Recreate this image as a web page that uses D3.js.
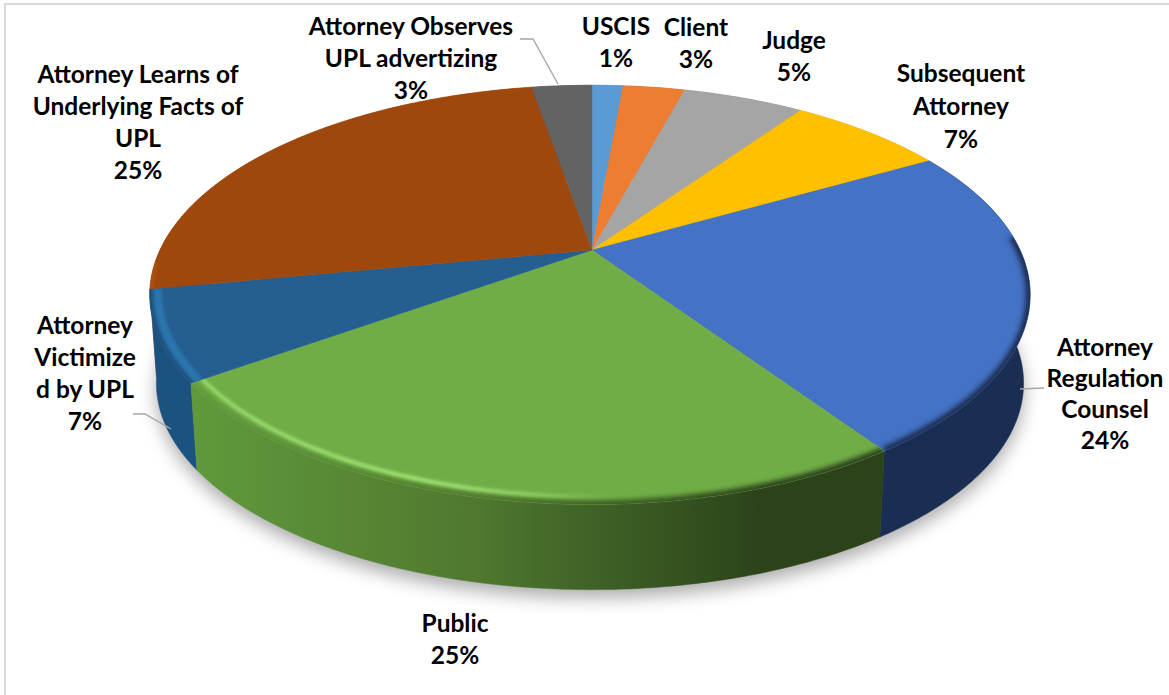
<!DOCTYPE html>
<html><head><meta charset="utf-8">
<script src="https://cdn.jsdelivr.net/npm/d3@7"></script>
<style>html,body{margin:0;background:#fff}svg{display:block}text{font-family:Lato,"Open Sans",sans-serif;font-weight:700;fill:#000}</style>
</head><body><svg id="c" width="1169" height="695"></svg>
<script>
const categories=["USCIS","Client","Judge","Subsequent Attorney","Attorney Regulation Counsel","Public","Attorney Victimized by UPL","Attorney Learns of Underlying Facts of UPL","Attorney Observes UPL advertizing"];
const values=[1.4,2.8,5.49,7.11,23.7,24.6,6.9,25.3,2.7];
const percentLabels=["1%","3%","5%","7%","24%","25%","7%","25%","3%"];
const topColors=["#5b9bd5","#ed7d31","#a5a5a5","#ffc000","#4472c4","#70ad47","#255e91","#9e480e","#636363"];
const wallColors=["#4a80b0","#c5672a","#888","#d09c00","#1a2d52","url(#wallGreen)","#1c527f","#a84c0c","#505050"];
const labelLines=[["USCIS"],["Client"],["Judge"],["Subsequent","Attorney"],["Attorney","Regulation","Counsel"],["Public"],["Attorney","Victimize","d by UPL"],["Attorney Learns of","Underlying Facts of","UPL"],["Attorney Observes","UPL advertizing"]];
const labelAnchors=[[616,27,32],[696,28,32],[794,41,32],[961,74,33],[1105,348,31],[455,624,32],[85,326,32],[138,75,32],[411,27,32]];
const leaders=[[[520,39],[533,39],[558,84]],[[133,414],[145,414],[171,429]],[[1020,389],[1044,388]]];

const svg=d3.select("#c");
const P=0.214,RXR=428,RXL=432,RY=200,CX=592,CY=250;
const project=(th,r=1)=>{const u=r*Math.sin(th),v=r*Math.cos(th),d=1+P*v;return [CX+(u<0?RXL:RXR)*u/d,CY-RY*v/d];};
const lower=(th)=>{const [x,y]=project(th);return [CX+(x-CX)*0.985,339+(y-CY)*0.985];};
const line=d3.line();
const arcs=d3.pie().sort(null)(values);
const span=(a,b,n)=>d3.range(n+1).map(i=>a+(b-a)*i/n);
const rimPts=(a,b,f)=>span(a,b,Math.max(2,Math.ceil((b-a)/0.01))).map(t=>f(t));

const defs=svg.append("defs");
const blur=(id,s)=>defs.append("filter").attr("id",id).attr("filterUnits","userSpaceOnUse").attr("x",0).attr("y",0).attr("width",1169).attr("height",695).append("feGaussianBlur").attr("stdDeviation",s);
blur("shadow",9);blur("b1",1.6);blur("b2",2.5);
const grad=(id,x1,x2,stops)=>{const g=defs.append("linearGradient").attr("id",id).attr("gradientUnits","userSpaceOnUse").attr("x1",x1).attr("x2",x2).attr("y1",0).attr("y2",0);
 stops.forEach(s=>g.append("stop").attr("offset",s[0]).attr("stop-color",s[1]).attr("stop-opacity",s[2]===undefined?1:s[2]));};
grad("wallGreen",195,885,[[0,"#60993c"],[0.41,"#50782f"],[0.6,"#3d5f25"],[0.82,"#2c431a"],[1,"#2c431a"]]);
grad("bevelGreen",195,885,[[0,"#96d86a"],[0.35,"#a0e272"],[0.5,"#8ccb60"],[0.66,"#70ad47",0]]);

const full=[0,Math.PI*2];
svg.append("rect").attr("x",5).attr("y",4).attr("width",1300).attr("height",900).attr("fill","none").attr("stroke","#d9d9d9").attr("stroke-width",2);

// shadow
svg.append("path").attr("d",line(rimPts(full[0],full[1],lower))+"Z").attr("transform","translate(0,8)").attr("fill","#000").attr("opacity",0.33).attr("filter","url(#shadow)");
// walls, back to front
const wallOrder=arcs.slice().sort((a,b)=>project((a.startAngle+a.endAngle)/2)[1]-project((b.startAngle+b.endAngle)/2)[1]);
svg.append("g").selectAll("path").data(wallOrder).join("path")
 .attr("d",d=>line(rimPts(d.startAngle,d.endAngle,project).concat(rimPts(d.startAngle,d.endAngle,lower).reverse()))+"Z")
 .attr("fill",d=>wallColors[d.index]).attr("stroke",d=>wallColors[d.index]).attr("stroke-width",0.5);
// top faces
const slicePts=d=>[[CX,CY]].concat(rimPts(d.startAngle,d.endAngle,project));
svg.append("g").selectAll("path").data(arcs).join("path")
 .attr("d",d=>line(slicePts(d))+"Z").attr("fill",d=>topColors[d.index]).attr("stroke",d=>topColors[d.index]).attr("stroke-width",0.4);
// bevels, clipped to each top face
const bevels=[
 {i:4,c:"#1a2d52",w:9,f:"b2",r:1,from:0.3,to:1},
 {i:5,c:"url(#wallGreen)",w:9,f:"b2",r:1,from:0,to:1},
 {i:5,c:"url(#bevelGreen)",w:4,f:"b1",r:0.975,from:0,to:1},
 {i:6,c:"#1c527f",w:6,f:"b1",r:1,from:0,to:1},
 {i:6,c:"#2a74ae",w:8,f:"b1",r:0.982,from:0,to:1},
 {i:7,c:"#b0510f",w:4,f:"b1",r:0.997,from:0,to:0.08}];
const clips=defs.selectAll("clipPath").data(arcs).join("clipPath").attr("id",d=>"cl"+d.index);
clips.append("path").attr("d",d=>line(slicePts(d))+"Z");
bevels.forEach(s=>{
 const d=arcs[s.i];
 const a=d.startAngle+s.from*(d.endAngle-d.startAngle);
 const b=d.startAngle+s.to*(d.endAngle-d.startAngle);
 svg.append("g").attr("clip-path",`url(#cl${s.i})`).append("path")
  .attr("d",line(rimPts(a,b,t=>project(t,s.r))))
  .attr("fill","none").attr("stroke",s.c).attr("stroke-width",s.w).attr("filter",`url(#${s.f})`);
});
// leaders
svg.append("g").selectAll("path").data(leaders).join("path").attr("d",d=>line(d)).attr("fill","none").attr("stroke","#a6a6a6").attr("stroke-width",1.4);
// labels
const lab=svg.append("g").attr("text-anchor","middle").attr("font-size",24.5);
categories.forEach((c,i)=>{
 const [x,y,step]=labelAnchors[i];
 const lines=labelLines[i].concat(percentLabels[i]);
 const t=lab.append("text").attr("x",x).attr("y",y+8);
 lines.forEach((l,j)=>t.append("tspan").attr("x",x).attr("y",y+8+j*step).text(l));
});
</script></body></html>
